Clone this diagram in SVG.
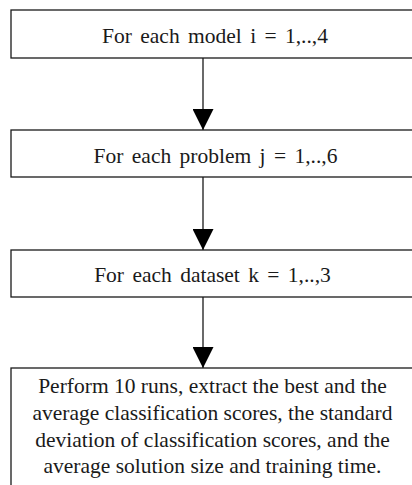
<svg xmlns="http://www.w3.org/2000/svg" width="412" height="485" viewBox="0 0 412 485">
<defs>
<style>
.box{fill:#fff;stroke:#1a1a1a;stroke-width:1.3}
.lbl{font-family:"Liberation Serif","Times New Roman",serif;font-size:21.5px;fill:#1a1a1a;text-anchor:middle}
.edge{stroke:#1a1a1a;stroke-width:1.3;fill:none;marker-end:url(#ah)}
</style>
<marker id="ah" markerUnits="userSpaceOnUse" markerWidth="22" markerHeight="21" refX="21" refY="10.5" orient="auto">
<path d="M0,0 L21,10.5 L0,21 Z" fill="#000"/>
</marker>
</defs>
<rect width="412" height="485" fill="#fff"/>
<g id="edges">
<line class="edge" x1="203" y1="58" x2="203" y2="130"/>
<line class="edge" x1="203" y1="177" x2="203" y2="250"/>
<line class="edge" x1="203" y1="297" x2="203" y2="368"/>
</g>
<g id="n1">
<rect class="box" x="11" y="10" width="410" height="48"/>
<text class="lbl" x="215" y="43" word-spacing="3">For each model i = 1,..,4</text>
</g>
<g id="n2">
<rect class="box" x="11" y="130" width="410" height="47"/>
<text class="lbl" x="215.5" y="163" word-spacing="3">For each problem j = 1,..,6</text>
</g>
<g id="n3">
<rect class="box" x="11" y="250" width="410" height="47"/>
<text class="lbl" x="212.5" y="282" word-spacing="3">For each dataset k = 1,..,3</text>
</g>
<g id="n4">
<rect class="box" x="11" y="368" width="410" height="130"/>
<text class="lbl" x="212.5" y="393">Perform 10 runs, extract the best and the</text>
<text class="lbl" x="212.5" y="420">average classification scores, the standard</text>
<text class="lbl" x="212.5" y="447">deviation of classification scores, and the</text>
<text class="lbl" x="212.5" y="473">average solution size and training time.</text>
</g>
</svg>
